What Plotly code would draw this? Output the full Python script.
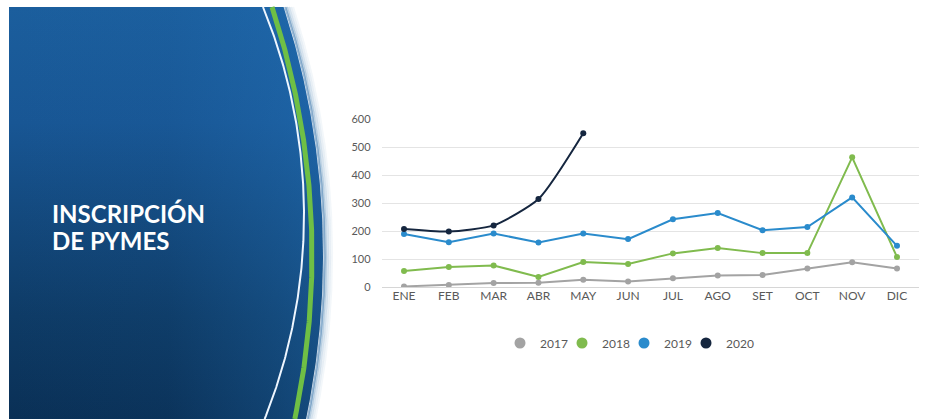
import numpy as np
import plotly.graph_objects as go

W, H = 946, 419

# Monthly SME registrations per year
meses = ["ENE", "FEB", "MAR", "ABR", "MAY", "JUN", "JUL", "AGO", "SET", "OCT", "NOV", "DIC"]
v2017 = [2, 7, 14, 15, 26, 20, 31, 41, 43, 66, 88, 66]
v2018 = [57, 71, 77, 36, 89, 82, 120, 139, 121, 121, 463, 107]
v2019 = [189, 160, 191, 159, 191, 171, 242, 264, 203, 214, 320, 147]
v2020 = [207, 198, 220, 314, 549]

anios = ["2017", "2018", "2019", "2020"]
colores = ["#a3a3a3", "#80bb4e", "#2a8bcc", "#15263f"]
series = [v2017, v2018, v2019, v2020]

FONT = "Lato"
TXT = "#595959"

fig = go.Figure()

# ---- decorative left panel (pixel space on a hidden full-page axis pair) ----
def arc_x(y, cx, cy, r):
    return cx + np.sqrt(r ** 2 - (y - cy) ** 2)

ys = np.linspace(7, 419, 240)
OUT_C = (-477.0, 255.0)

px = np.concatenate([[9], arc_x(ys, OUT_C[0], OUT_C[1], 800), [9]])
py = np.concatenate([[7], ys, [419]])

deco = dict(xaxis="x2", yaxis="y2", hoverinfo="skip", showlegend=False)

# soft edge fading into the white page
for dr, a in [(9, 0.05), (7, 0.10), (5, 0.18), (3, 0.30), (1.5, 0.45)]:
    fig.add_trace(go.Scatter(
        x=arc_x(ys, OUT_C[0], OUT_C[1], 800 + dr), y=ys, mode="lines",
        line=dict(color=f"rgba(28,98,160,{a})", width=2.2), **deco))

fig.add_trace(go.Scatter(
    x=px, y=py, mode="lines", fill="toself",
    line=dict(width=0, color="rgba(0,0,0,0)"),
    fillgradient=dict(type="vertical", start=7, stop=419,
                      colorscale=[[0, "#1b5e9d"], [0.28, "#185694"],
                                  [0.52, "#13487c"], [0.75, "#0e3b66"],
                                  [1, "#0a3056"]]),
    **deco))

fig.add_trace(go.Scatter(
    x=px, y=py, mode="lines", fill="toself",
    line=dict(width=0, color="rgba(0,0,0,0)"),
    fillgradient=dict(type="horizontal", start=9, stop=325,
                      colorscale=[[0, "rgba(40,125,200,0)"], [0.5, "rgba(40,125,200,0.04)"],
                                  [0.85, "rgba(40,125,200,0.24)"], [1, "rgba(40,125,200,0.36)"]]),
    **deco))

# green stripe
fig.add_trace(go.Scatter(
    x=arc_x(ys, OUT_C[0], OUT_C[1], 789), y=ys, mode="lines",
    line=dict(color="#6fbf45", width=5), **deco))

# thin white stripe
fig.add_trace(go.Scatter(
    x=arc_x(ys, -244.0, 215.0, 548), y=ys, mode="lines",
    line=dict(color="#eef6ff", width=2), **deco))

# ---- line chart ----
for anio, col, vals in zip(anios, colores, series):
    fig.add_trace(go.Scatter(
        x=meses[:len(vals)], y=vals, name=anio, mode="lines+markers",
        line=dict(color=col, width=2,
                  shape="spline" if anio == "2020" else "linear", smoothing=0.6),
        marker=dict(color=col, size=6),
        legendgroup=anio, showlegend=False, hoverinfo="x+y+name"))
    fig.add_trace(go.Scatter(
        x=[None], y=[None], name=anio, mode="markers",
        marker=dict(color=col, size=11), legendgroup=anio, showlegend=True))

# empty trailing legend slot so the last label has room inside the legend box
fig.add_trace(go.Scatter(x=[None], y=[None], name="", mode="markers",
                         marker=dict(color="rgba(0,0,0,0)", size=1),
                         showlegend=True, hoverinfo="skip"))

x0, x1 = 381.6 / W, 919.4 / W
fig.update_layout(
    width=W, height=H,
    margin=dict(l=0, r=0, t=0, b=0, pad=0, autoexpand=False),
    paper_bgcolor="white", plot_bgcolor="rgba(0,0,0,0)",
    font=dict(family=FONT, color=TXT),
    xaxis=dict(domain=[x0, x1], type="category", categoryarray=meses,
               range=[-0.5, 11.5], showgrid=False, zeroline=False, showline=False,
               ticks="", tickfont=dict(size=12, color=TXT), automargin=False),
    yaxis=dict(domain=[1 - 287 / H, 1 - 119 / H], range=[0, 600], dtick=100,
               showgrid=True, gridcolor="#e4e4e4", gridwidth=1,
               zeroline=True, zerolinecolor="#d6d6d6", zerolinewidth=1,
               showline=False, ticks="", ticklabelstandoff=10,
               tickfont=dict(size=11, color=TXT), automargin=False),
    xaxis2=dict(domain=[0, 1], range=[0, W], visible=False, fixedrange=True,
                anchor="y2", automargin=False),
    yaxis2=dict(domain=[0, 1], range=[H, 0], visible=False, fixedrange=True,
                anchor="x2", automargin=False),
    legend=dict(orientation="h", x=500 / W, y=1 - 343 / H, xanchor="left",
                yanchor="middle", font=dict(size=12, color=TXT),
                entrywidth=17, entrywidthmode="pixels", itemwidth=30),
    annotations=[
        dict(text="<b>INSCRIPCIÓN</b>", x=50 / W, y=1 - 213 / H, xref="paper", yref="paper",
             xanchor="left", yanchor="middle", showarrow=False,
             font=dict(family=FONT, size=24, color="white")),
        dict(text="<b>DE PYMES</b>", x=50 / W, y=1 - 241 / H, xref="paper", yref="paper",
             xanchor="left", yanchor="middle", showarrow=False,
             font=dict(family=FONT, size=24, color="white")),
    ],
    showlegend=True,
)

fig.write_html("out.html")
